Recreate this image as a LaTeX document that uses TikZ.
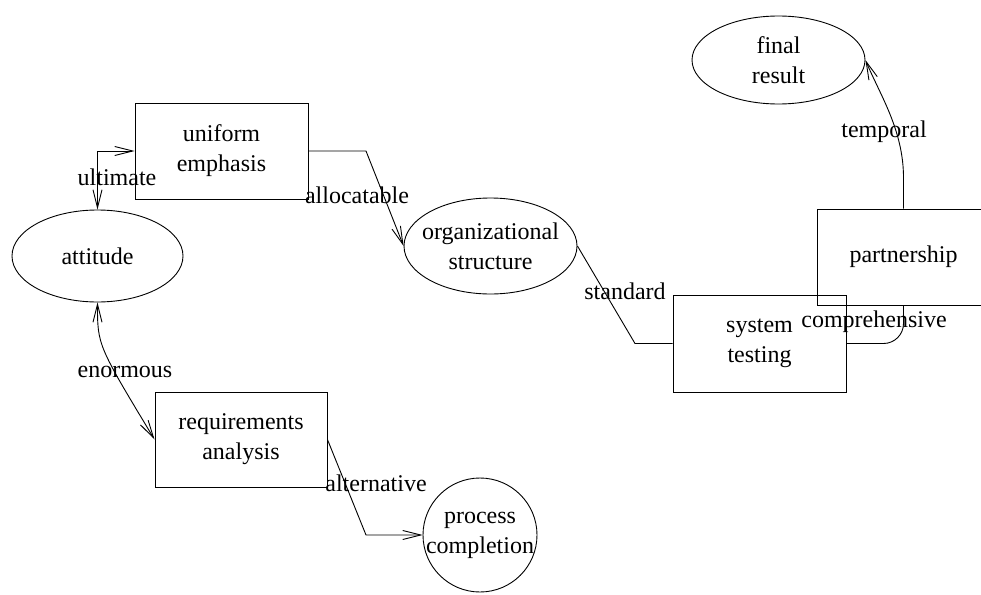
\documentclass[tikz,border=0pt]{standalone}
\usepackage{fontspec}
\setmainfont{Liberation Serif}
\usetikzlibrary{arrows.meta,shapes.geometric}
\begin{document}
\begin{tikzpicture}[x=1pt,y=-1pt,line width=0.9pt,
  every node/.style={font=\fontsize{24}{30}\selectfont},
  every label/.style={align=center,inner sep=0pt},
  box/.style={draw,rectangle,minimum width=173pt,minimum height=96pt,inner sep=0pt,align=center},
  ell/.style={draw,ellipse,inner sep=0pt},
  circ/.style={draw,circle,inner sep=0pt,minimum size=114pt},
  lbl/.style={inner sep=0pt,anchor=base},
  barb/.style={{Straight Barb[length=18pt,width=9pt]}},
  tipend/.style={-{Straight Barb[length=18pt,width=9pt]}},
  tipboth/.style={{Straight Barb[length=18pt,width=9pt]}-{Straight Barb[length=18pt,width=9pt]}}
]
\useasboundingbox (0,0) rectangle (981,594);

% nodes
\node[ell,minimum width=173pt,minimum height=88pt,label={center:final\\result}] (fr) at (778.5,60) {};
\node[box] (ue) at (221.5,151) {uniform\\emphasis};
\node[ell,minimum width=171pt,minimum height=92pt,label={center:attitude}] (att) at (97.5,256) {};
\node[ell,minimum width=173pt,minimum height=96pt,label={center:organizational\\structure}] (org) at (490.5,246) {};
\node[box] (pa) at (903.5,257) {partnership};
\node[box,minimum height=97pt] (st) at (759.5,343.5) {system\\testing};
\node[box,minimum width=172pt,minimum height=95pt] (rq) at (241,439.5) {requirements\\analysis};
\node[circ,label={center:process\\completion}] (pc) at (480,535) {};

% bend points
\coordinate (b1) at (366,151);
\coordinate (b2) at (635,343.5);
\coordinate (b3) at (903.5,343.5);
\coordinate (b4) at (903.5,178);
\coordinate (b5) at (366,535);

% connectors
\draw[tipboth] (att.north) |- (ue.west);
\draw[tipend] (ue.east) -- (b1) -- (org.west);
\draw (org.east) -- (b2) -- (st.west);
\draw[rounded corners=20pt] (st.east) -- (b3) -- (pa.south);
\draw[tipend] (pa.north) -- (b4) .. controls (903.5,130) and (880,95) .. (fr.east);
\draw[tipboth] (att.south) .. controls (97.5,345) .. (rq.west);
\draw[tipend] (rq.east) -- (b5) -- (pc.west);

% labels
\node[lbl] (l1) at (117,185) {ultimate};
\node[lbl] (l2) at (357,203) {allocatable};
\node[lbl] (l3) at (625,299) {standard};
\node[lbl] (l4) at (874,327) {comprehensive};
\node[lbl] (l5) at (884,137) {temporal};
\node[lbl] (l6) at (125,377) {enormous};
\node[lbl] (l7) at (376,491) {alternative};
\end{tikzpicture}
\end{document}
